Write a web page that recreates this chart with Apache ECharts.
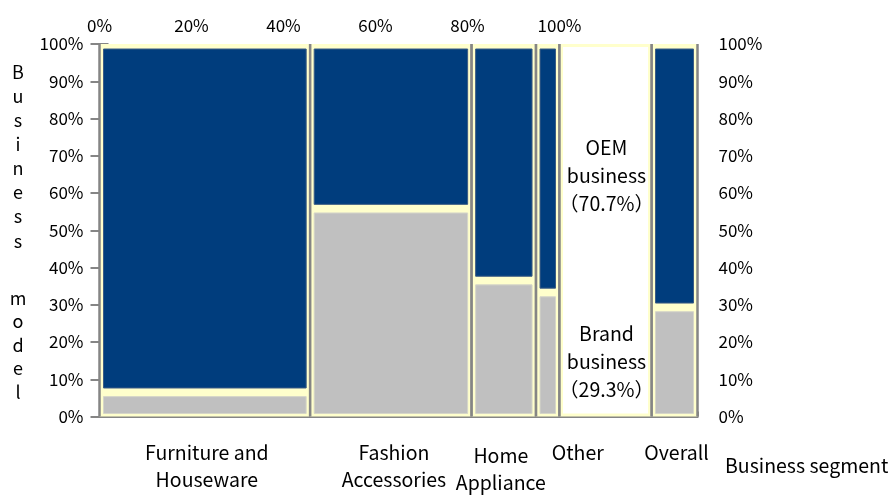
<!DOCTYPE html>
<html>
<head>
<meta charset="utf-8">
<script src="https://cdn.jsdelivr.net/npm/echarts@6/dist/echarts.min.js"></script>
<style>html,body{margin:0;padding:0;background:#fff;}#c{width:896px;height:495px;}</style>
</head>
<body>
<div id="c"></div>
<script>
// ---- data ----
const segments = ['Furniture and\nHouseware', 'Fashion\nAccessories', 'Home\nAppliance', 'Other'];
const segmentWidths = [45.8, 35.1, 14.0, 5.1];          // % of total (x axis)
const brandShare = [6.5, 55.8, 36.5, 33.3];             // % brand business
const overallLabel = 'Overall';
const overallBrand = 29.3;
const xTicks = [0, 20, 40, 60, 80, 100];
const yTicks = [0, 10, 20, 30, 40, 50, 60, 70, 80, 90, 100];

// ---- label placement (style, px) ----
const labelDx = [2, 3, -3, 30, 2];
const labelDy = [0, 0, 3, 0, 0];

const FONT = '"Noto Sans CJK JP", "Noto Sans", sans-serif';
const TXT = '19.5px ' + FONT;
const NAVY = '#003D7D', GREY = '#C0C0C0', CREAM = '#FFFFCC', SEP = '#858585';

// build column data: [x0, x1, brand, idx]
const cols = [];
let acc = 0;
segments.forEach((s, i) => { cols.push([acc, acc + segmentWidths[i], brandShare[i], i]); acc += segmentWidths[i]; });
const labelColX0 = 100, labelColX1 = 120, overallX0 = 120, overallX1 = 130;
cols.push([overallX0, overallX1, overallBrand, segments.length]);
const catNames = segments.concat([overallLabel]);

function renderCol(params, api) {
  const x0 = api.value(0), x1 = api.value(1), b = api.value(2), idx = api.value(3);
  const tl = api.coord([x0, 100]), br = api.coord([x1, 0]), mid = api.coord([x0, b]);
  const w = br[0] - tl[0], h = br[1] - tl[1];
  const ins = 4;
  const children = [
    { type: 'rect', shape: { x: tl[0], y: tl[1], width: w, height: h }, style: { fill: CREAM } },
    { type: 'rect', shape: { x: tl[0] + ins, y: mid[1] + 4.3, width: w - 2 * ins, height: br[1] - 3 - (mid[1] + 4.3) },
      style: { fill: GREY, stroke: '#D6D6C8', lineWidth: 1 } },
    { type: 'rect', shape: { x: tl[0] + ins, y: tl[1] + 5, width: w - 2 * ins, height: (mid[1] - 4.3) - (tl[1] + 5) },
      style: { fill: NAVY, stroke: '#3C5C84', lineWidth: 1 } },
    { type: 'line', shape: { x1: tl[0], y1: tl[1], x2: tl[0], y2: br[1] }, style: { stroke: SEP, lineWidth: 2.5 } },
    { type: 'line', shape: { x1: br[0], y1: tl[1], x2: br[0], y2: br[1] }, style: { stroke: SEP, lineWidth: 2.5 } },
    { type: 'text', x: (tl[0] + br[0]) / 2 + labelDx[idx], y: br[1] + 23 + labelDy[idx],
      style: { text: catNames[idx], align: 'center', verticalAlign: 'top', lineHeight: 27,
               font: TXT, fill: '#000' } }
  ];
  return { type: 'group', children };
}

function renderLegendCol(params, api) {
  const x0 = api.value(0), x1 = api.value(1), b = api.value(2);
  const tl = api.coord([x0, 100]), br = api.coord([x1, 0]);
  const oemC = api.coord([x0, b + (100 - b) / 2]), brC = api.coord([x0, b / 2]);
  const w = br[0] - tl[0], h = br[1] - tl[1];
  const cx = (tl[0] + br[0]) / 2;
  const oem = (100 - b).toFixed(1);
  return { type: 'group', children: [
    { type: 'rect', shape: { x: tl[0], y: tl[1], width: w, height: h }, style: { fill: CREAM } },
    { type: 'rect', shape: { x: tl[0] + 3.5, y: tl[1] + 3, width: w - 7, height: h - 6 }, style: { fill: '#fff' } },
    { type: 'line', shape: { x1: tl[0], y1: tl[1], x2: tl[0], y2: br[1] }, style: { stroke: SEP, lineWidth: 2.5 } },
    { type: 'line', shape: { x1: br[0], y1: tl[1], x2: br[0], y2: br[1] }, style: { stroke: SEP, lineWidth: 2.5 } },
    { type: 'text', x: cx + 1, y: oemC[1], style: { text: 'OEM\nbusiness\n（' + oem + '%）', align: 'center', verticalAlign: 'middle',
      lineHeight: 28, font: TXT, fill: '#000' } },
    { type: 'text', x: cx + 1, y: brC[1], style: { text: 'Brand\nbusiness\n（' + b.toFixed(1) + '%）', align: 'center', verticalAlign: 'middle',
      lineHeight: 28, font: TXT, fill: '#000' } }
  ]};
}

const chart = echarts.init(document.getElementById('c'), null, { renderer: 'canvas' });
const axisLineStyle = { color: SEP, width: 2 };
chart.setOption({
  animation: false,
  backgroundColor: '#fff',
  grid: { left: 99.5, right: 198.5, top: 44, bottom: 78.5 },
  xAxis: [
    { type: 'value', position: 'top', min: 0, max: 130, interval: 20,
      axisLine: { show: true, lineStyle: axisLineStyle },
      axisTick: { show: true, length: 5, lineStyle: axisLineStyle },
      axisLabel: { margin: 10, fontSize: 17, color: '#000', fontFamily: FONT,
        formatter: v => (xTicks.indexOf(v) >= 0 ? v + '%' : '') },
      splitLine: { show: false } },
    { type: 'value', position: 'bottom', min: 0, max: 130,
      axisLine: { show: true, lineStyle: axisLineStyle },
      axisTick: { show: false }, axisLabel: { show: false }, splitLine: { show: false } }
  ],
  yAxis: [
    { type: 'value', position: 'left', min: 0, max: 100, interval: 10,
      axisLine: { show: true, lineStyle: axisLineStyle },
      axisTick: { show: true, length: 9, lineStyle: axisLineStyle },
      axisLabel: { margin: 16, fontSize: 17, color: '#000', fontFamily: FONT,
        formatter: v => (yTicks.indexOf(v) >= 0 ? v + '%' : '') },
      splitLine: { show: false } },
    { type: 'value', position: 'right', min: 0, max: 100, interval: 10,
      axisLine: { show: true, lineStyle: axisLineStyle },
      axisTick: { show: true, length: 9, lineStyle: axisLineStyle },
      axisLabel: { margin: 21, fontSize: 17, color: '#000', fontFamily: FONT,
        formatter: v => (yTicks.indexOf(v) >= 0 ? v + '%' : '') },
      splitLine: { show: false } }
  ],
  graphic: [
    { type: 'text', x: 18, y: 60, style: { text: 'B\nu\ns\ni\nn\ne\ns\ns', align: 'center', verticalAlign: 'top', lineHeight: 24.1, font: '18px ' + FONT, fill: '#000' } },
    { type: 'text', x: 18, y: 286, style: { text: 'm\no\nd\ne\nl', align: 'center', verticalAlign: 'top', lineHeight: 23.5, font: '18px ' + FONT, fill: '#000' } },
    { type: 'text', x: 725, y: 466, style: { text: 'Business segment', align: 'left', verticalAlign: 'middle', font: TXT, fill: '#000' } }
  ],
  series: [
    { type: 'custom', xAxisIndex: 0, yAxisIndex: 0, renderItem: renderCol, data: cols, clip: false, z: 1 },
    { type: 'custom', xAxisIndex: 0, yAxisIndex: 0, renderItem: renderLegendCol, data: [[labelColX0, labelColX1, overallBrand]], clip: false, z: 1 }
  ]
});
</script>
</body>
</html>
